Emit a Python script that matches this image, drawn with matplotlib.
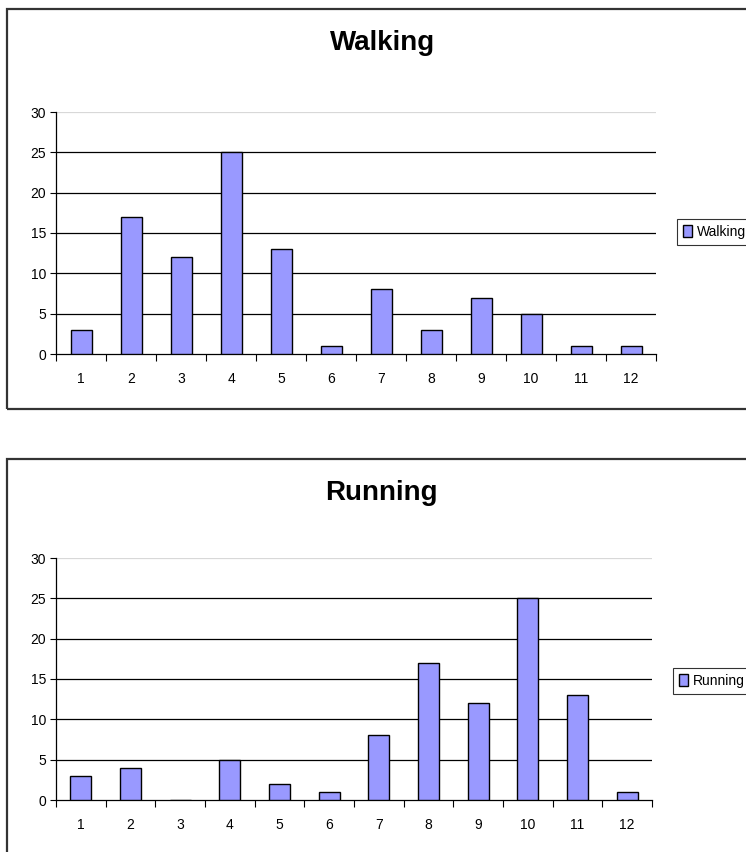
import matplotlib.pyplot as plt
from matplotlib.patches import Rectangle
import numpy as np

plt.rcParams['font.family'] = ['Liberation Sans', 'DejaVu Sans']

categories = [1, 2, 3, 4, 5, 6, 7, 8, 9, 10, 11, 12]
walking = [3, 17, 12, 25, 13, 1, 8, 3, 7, 5, 1, 1]
running = [3, 4, 0, 5, 2, 1, 8, 17, 12, 25, 13, 1]
y_ticks = [0, 5, 10, 15, 20, 25, 30]

W, H = 746, 852
fig = plt.figure(figsize=(W / 100, H / 100), dpi=100)


def fx(px):
    return px / W


def fy(py):
    return 1 - py / H


def chart(name, values, frame_top, frame_bottom, plot_left, plot_right,
          y30, y0, title_y, leg_x, leg_y):
    # outer chart frame (right side runs off the page)
    fig.patches.append(Rectangle((fx(7), fy(frame_bottom)), fx(W + 20) - fx(7),
                                 fy(frame_top) - fy(frame_bottom),
                                 transform=fig.transFigure, fill=False,
                                 edgecolor='#333333', linewidth=1.6))

    ax = fig.add_axes([fx(plot_left), fy(y0), fx(plot_right) - fx(plot_left),
                       fy(y30) - fy(y0)])
    x = np.array(categories)
    ax.bar(x, values, width=0.42, color='#9999ff', edgecolor='black',
           linewidth=1.0, zorder=3, label=name)

    ax.set_xlim(0.5, len(categories) + 0.5)
    ax.set_ylim(0, 30)
    for v in y_ticks[1:]:
        ax.axhline(v, color='#d8d8d8' if v == 30 else 'black',
                   linewidth=0.9, zorder=1)

    ax.set_yticks(y_ticks)
    ax.tick_params(axis='y', length=4, width=0.8, pad=3, labelsize=10)
    ax.set_xticks(np.arange(0.5, len(categories) + 1, 1))
    ax.set_xticklabels([])
    ax.set_xticks(x, minor=True)
    ax.set_xticklabels([str(c) for c in categories], minor=True)
    ax.tick_params(axis='x', which='major', length=5, width=0.8)
    ax.tick_params(axis='x', which='minor', length=0, pad=13, labelsize=10)

    ax.spines['top'].set_visible(False)
    ax.spines['right'].set_visible(False)
    ax.spines['left'].set_linewidth(0.9)
    ax.spines['bottom'].set_linewidth(0.9)

    fig.text(fx((plot_left + plot_right) / 2 + 27), fy(title_y), name,
             ha='center', va='center', fontsize=20, fontweight='bold')

    leg = ax.legend(loc='center left', bbox_to_anchor=(fx(leg_x), fy(leg_y)),
                    bbox_transform=fig.transFigure, frameon=True,
                    fancybox=False, handlelength=0.6, handleheight=0.9,
                    handletextpad=0.4, borderpad=0.45, fontsize=10)
    leg.get_frame().set_edgecolor('black')
    leg.get_frame().set_linewidth(0.8)


chart('Walking', walking, 9, 409, 56, 656, 112, 354, 43, 670, 232)
chart('Running', running, 459, 880, 56, 652, 558, 800, 493, 666, 681)

plt.savefig('out.png', dpi=100)
